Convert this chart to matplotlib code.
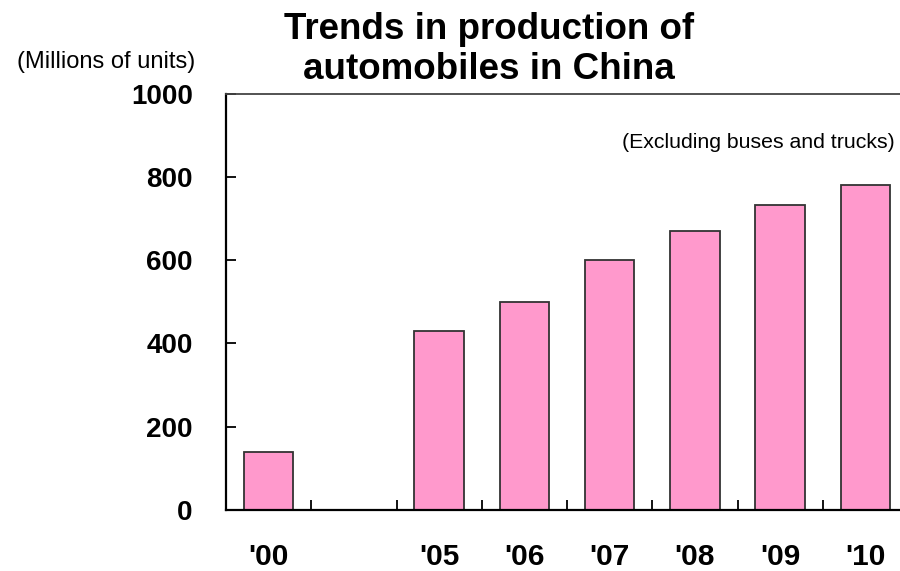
import numpy as np
import matplotlib.pyplot as plt

plt.rcParams['font.family'] = ['Liberation Sans', 'DejaVu Sans']

years = ["'00", "", "'05", "'06", "'07", "'08", "'09", "'10"]
production = [140, np.nan, 430, 499, 601, 671, 732, 780]
y_ticks = [0, 200, 400, 600, 800, 1000]

fig = plt.figure(figsize=(9, 5.71), dpi=100)
ax = fig.add_axes([226 / 900, 61 / 571, 682 / 900, 416.5 / 571])

x = np.arange(len(years))
ax.bar(x, production, width=0.58, color='#ff99cc', edgecolor='#333333', linewidth=1.3)

ax.set_xlim(-0.5, len(years) - 0.5)
ax.set_ylim(0, 1000)

ax.set_yticks(y_ticks)
ax.set_yticklabels([str(v) for v in y_ticks], fontsize=20, fontweight='bold')
ax.tick_params(axis='y', direction='in', length=7.5, width=1.3, pad=24)

# boundary ticks between categories, labels at the centres
ax.set_xticks(x[:-1] + 0.5)
ax.set_xticklabels([])
ax.tick_params(axis='x', which='major', direction='in', length=7.5, width=1.3)
ax.set_xticks(x, minor=True)
ax.set_xticklabels(years, minor=True, fontsize=21.5, fontweight='bold')
ax.tick_params(axis='x', which='minor', length=0, pad=24)

ax.spines['left'].set_linewidth(1.6)
ax.spines['bottom'].set_linewidth(1.6)
ax.spines['top'].set_linewidth(1.3)
ax.spines['top'].set_color('#444444')
ax.spines['right'].set_visible(False)

fig.text(489 / 900, 1 - 12 / 571, 'Trends in production of\nautomobiles in China',
         ha='center', va='top', fontsize=26.5, fontweight='bold', linespacing=1.2)
fig.text(195 / 900, 1 - 62 / 571, '(Millions of units)', ha='right', va='center', fontsize=17)
fig.text(895 / 900, 1 - 143 / 571, '(Excluding buses and trucks)', ha='right', va='center',
         fontsize=15.3)

fig.savefig('out.png', dpi=100)
